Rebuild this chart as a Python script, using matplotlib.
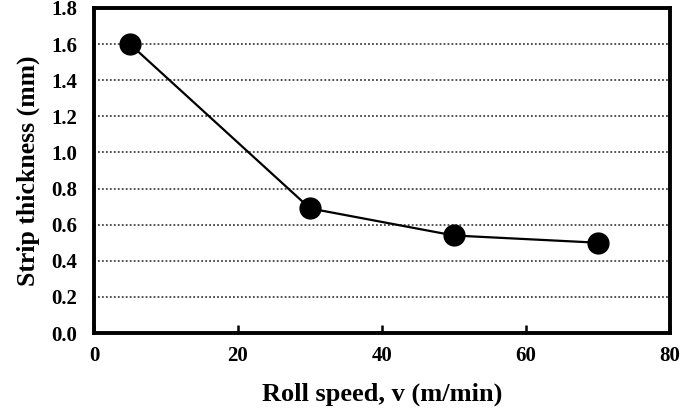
import numpy as np
import matplotlib.pyplot as plt

# data
roll_speed = [5, 30, 50, 70]
thickness = [1.60, 0.69, 0.54, 0.50]
x_ticks = [0, 20, 40, 60, 80]
y_ticks = [0.0, 0.2, 0.4, 0.6, 0.8, 1.0, 1.2, 1.4, 1.6, 1.8]

plt.rcParams['font.family'] = ['Liberation Serif', 'DejaVu Serif']
plt.rcParams['font.weight'] = 'bold'

fig = plt.figure(figsize=(6.82, 4.11), dpi=100)
ax = fig.add_axes([94/682, 1 - 333/411, 576/682, 325/411])

for y in y_ticks[1:-1]:
    ax.axhline(y, color='#444444', linestyle=(0, (1, 1.2)), linewidth=1.3, zorder=1)

ax.plot(roll_speed, thickness, color='black', linewidth=1.6, marker='o',
        markersize=15, markerfacecolor='black', zorder=3)

ax.set_xlim(0, 80)
ax.set_ylim(0, 1.8)
ax.set_xticks(x_ticks)
ax.set_yticks(y_ticks)
ax.set_yticklabels([f"{v:.1f}" for v in y_ticks])
ax.tick_params(axis='x', direction='in', length=6, width=1.8, labelsize=15, pad=9)
ax.tick_params(axis='y', length=0, labelsize=15, pad=12)
for lab in ax.get_xticklabels() + ax.get_yticklabels():
    lab.set_fontweight('bold')
for s in ax.spines.values():
    s.set_linewidth(2.8)

ax.set_xlabel('Roll speed, v (m/min)', fontsize=19, fontweight='bold', labelpad=12)
ax.set_ylabel('Strip thickness (mm)', fontsize=18.5, fontweight='bold', labelpad=8)

fig.savefig('out.png', dpi=100)
